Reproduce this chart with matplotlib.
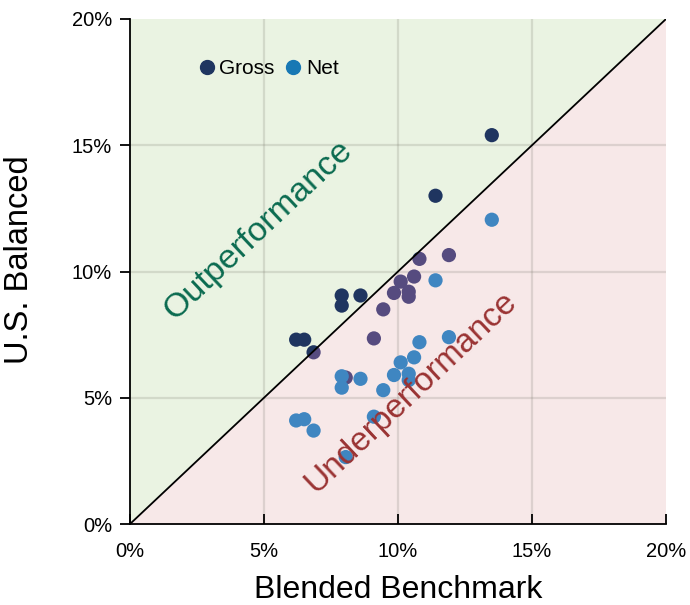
import matplotlib
matplotlib.use("Agg")
import matplotlib.pyplot as plt
from matplotlib.patches import Polygon
from matplotlib.lines import Line2D
from matplotlib.ticker import FuncFormatter

plt.rcParams['font.family'] = ['Liberation Sans', 'DejaVu Sans']

# Annualised returns (%)
benchmark = [13.5, 11.4, 7.9, 8.6, 7.9, 6.2, 6.5, 6.85, 10.8, 11.9,
             10.6, 10.1, 9.85, 10.4, 10.4, 9.45, 9.1, 8.05]
gross = [15.4, 13.0, 9.05, 9.05, 8.65, 7.3, 7.3, 6.8, 10.5, 10.65,
         9.8, 9.6, 9.15, 9.2, 9.0, 8.5, 7.35, 5.8]
net = [12.05, 9.65, 5.85, 5.75, 5.4, 4.1, 4.15, 3.7, 7.2, 7.4,
       6.6, 6.4, 5.9, 5.95, 5.7, 5.3, 4.25, 2.65]

ticks = [0, 5, 10, 15, 20]
lim = (0, 20)

fig = plt.figure(figsize=(6.9, 6.05), dpi=100)
ax = fig.add_axes([130/690, 1-524/605, 536/690, 505/605])
ax.set_xlim(lim)
ax.set_ylim(lim)

upper = Polygon([(0, 0), (0, 20), (20, 20)], closed=True, transform=ax.transData)
lower = Polygon([(0, 0), (20, 0), (20, 20)], closed=True, transform=ax.transData)

ax.add_patch(Polygon([(0, 0), (0, 20), (20, 20)], closed=True,
                     facecolor='#eaf3e2', edgecolor='none', zorder=0))
ax.add_patch(Polygon([(0, 0), (20, 0), (20, 20)], closed=True,
                     facecolor='#f7e8e8', edgecolor='none', zorder=0))

for t in ticks[1:-1]:
    ax.axvline(t, color=(0.45, 0.45, 0.4, 0.2), lw=1.6, zorder=1)
    ax.axhline(t, color=(0.45, 0.45, 0.4, 0.2), lw=1.6, zorder=1)

# points are tinted by the region they sit in
styles = [
    (gross, '#1f3560', '#564b7f'),
    (net, '#1878b4', '#3f86c1'),
]
for ys, c_up, c_low in styles:
    a = ax.scatter(benchmark, ys, s=105, color=c_up, edgecolors='none', zorder=3)
    a.set_clip_path(upper)
    b = ax.scatter(benchmark, ys, s=105, color=c_low, edgecolors='none', zorder=3)
    b.set_clip_path(lower)

ax.plot(lim, lim, color='black', lw=1.3, zorder=4)

ax.text(4.78, 11.64, 'Outperformance', rotation=43.3, color='#0b6b50',
        fontsize=24.5, ha='center', va='center', rotation_mode='anchor', zorder=5)
ax.text(10.5, 5.23, 'Underperformance', rotation=43.3, color='#9a3333',
        fontsize=24, ha='center', va='center', rotation_mode='anchor', zorder=5)

handles = [
    Line2D([], [], marker='o', ls='none', markersize=10, color='#1f3560', label='Gross'),
    Line2D([], [], marker='o', ls='none', markersize=10, color='#1878b4', label='Net'),
]
ax.legend(handles=handles, loc='center left', bbox_to_anchor=(0.12, 0.901),
          ncol=2, frameon=False, fontsize=15, handletextpad=0.0,
          columnspacing=0.3, handlelength=1.2, borderaxespad=0, borderpad=0)

for s in ['top', 'right']:
    ax.spines[s].set_visible(False)
for s in ['left', 'bottom']:
    ax.spines[s].set_color('black')
    ax.spines[s].set_linewidth(1.3)
    ax.spines[s].set_zorder(6)

pct = FuncFormatter(lambda v, p: f'{v:.0f}%')
ax.set_xticks(ticks)
ax.set_yticks(ticks)
ax.xaxis.set_major_formatter(pct)
ax.yaxis.set_major_formatter(pct)
ax.tick_params(axis='x', direction='in', length=7, width=1.3, labelsize=14.5, pad=13)
ax.tick_params(axis='y', direction='out', length=7, width=1.3, labelsize=14.5, pad=6)

ax.set_xlabel('Blended Benchmark', fontsize=23, labelpad=10)
ax.set_ylabel('U.S. Balanced', fontsize=23.5, labelpad=12)
ax.yaxis.set_label_coords(-0.178, 0.523)

fig.savefig('out.png', dpi=100)
